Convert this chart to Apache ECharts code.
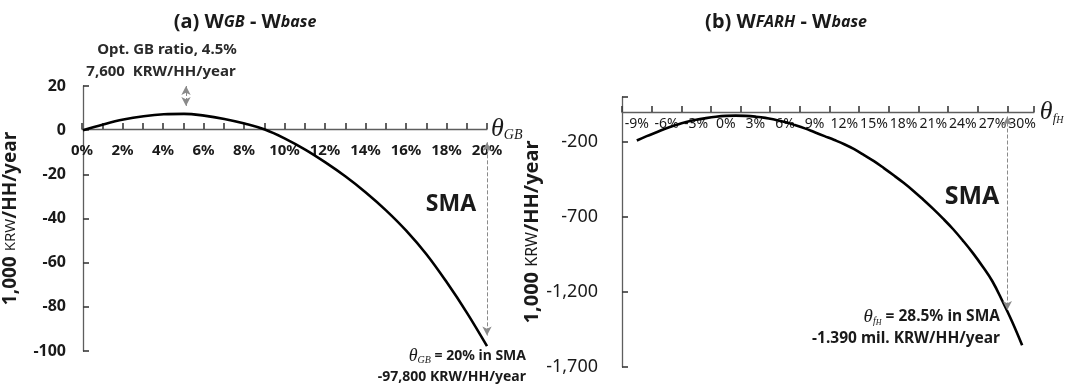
<!DOCTYPE html>
<html>
<head>
<meta charset="utf-8">
<script src="https://cdn.jsdelivr.net/npm/echarts@6/dist/echarts.min.js"></script>
<style>html,body{margin:0;padding:0;background:#fff}#c{width:1081px;height:385px}</style>
</head>
<body>
<div id="c"></div>
<script>
// ---- data ----
const gbRatio = [0,1,2,3,4,5,6,7,8,9,10,11,12,13,14,15,16,17,18,19,20];
const gbWelfare = [0,2.6,4.8,6.3,7.2,7.4,6.6,5.1,3.0,0.3,-3.8,-8.8,-14.6,-21.0,-28.2,-36.3,-45.5,-56.2,-68.8,-82.6,-97.8];
const fhRatio = [-9,-8,-7,-6,-5,-4,-3,-2,-1,0,1,2,3,4,5,6,7,8,9,10,11,12,13,14,15,16,17,18,19,20,21,22,23,24,25,26,27,28,29,30];
const fhWelfare = [-190,-161,-135,-108,-86,-67,-52,-41,-32,-26,-24,-26,-31,-39,-52,-67,-87,-109,-135,-161,-187,-215,-248,-287,-328,-374,-422,-472,-526,-585,-646,-711,-780,-857,-939,-1030,-1130,-1260,-1400,-1555];
const fhLabelTicks = [-9,-6,-3,0,3,6,9,12,15,18,21,24,27,30];
const fhYTicks = [-1700,-1200,-700,-200];
// tick-mark spacing (axis units)
const gbTickStep = 1, fhTickStep = 3, fhYStep = 500;

const SANS = "'Noto Sans', 'Open Sans', sans-serif";
const SERIF = "'Liberation Serif', 'DejaVu Serif', serif";
const AXIS = '#5e5e5e';
const TXT = '#1a1a1a';

function comma(v){ const s = Math.abs(v).toString().replace(/\B(?=(\d{3})+(?!\d))/g, ','); return (v<0?'-':'') + s; }

const chart = echarts.init(document.getElementById('c'));
const arrowLine = { type:'dashed', color:'#8a8a8a', width:1 };
const hidden = {show:false};
const tickStyle = {color:'#3a3a3a', width:1.6};

const fhMin = -10.5, fhMax = 31.2;

chart.setOption({
  animation:false,
  backgroundColor:'#fff',
  grid:[
    {left:82, top:86, width:405, height:265},   // 0: left plot
    {left:622, top:97, width:412, height:270},  // 1: right plot
    {left:82, top:86, width:405, height:43},    // 2: left x-axis host (bottom edge = zero line)
    {left:622, top:97, width:412, height:15}    // 3: right x-axis host
  ],
  xAxis:[
    {type:'value', gridIndex:0, min:0, max:20, show:false},
    {type:'value', gridIndex:1, min:fhMin, max:fhMax, show:false},
    {type:'value', gridIndex:2, min:0, max:20, interval:gbTickStep, position:'bottom',
     axisLine:{show:true, onZero:false, lineStyle:{color:AXIS, width:1.3}},
     axisTick:{show:true, inside:true, length:6, lineStyle:tickStyle},
     axisLabel:{show:true, formatter:v=>(v%2===0? v+'%' : ''), margin:14, fontFamily:SANS, fontWeight:'bold', fontSize:15, color:TXT},
     splitLine:hidden,
     name:'{t|θ}{s|GB}', nameLocation:'end', nameGap:4,
     nameTextStyle:{rich:{t:{fontFamily:SERIF, fontStyle:'italic', fontSize:26, color:TXT}, s:{fontFamily:SERIF, fontStyle:'italic', fontSize:14, color:TXT, verticalAlign:'bottom', padding:[12,0,0,0]}}}
    },
    {type:'value', gridIndex:3, min:fhMin, max:fhMax, position:'bottom',
     axisLine:{show:true, onZero:false, lineStyle:{color:AXIS, width:1.3}},
     axisTick:{show:false},
     axisLabel:{show:true, customValues:fhLabelTicks, formatter:v=>v+'%', margin:5, fontFamily:SANS, fontSize:14, color:TXT},
     splitLine:hidden,
     name:'{t|θ}{s|f}{u|H}', nameLocation:'end', nameGap:4,
     nameTextStyle:{rich:{t:{fontFamily:SERIF, fontStyle:'italic', fontSize:26, color:TXT}, s:{fontFamily:SERIF, fontStyle:'italic', fontSize:13, color:TXT, verticalAlign:'bottom', padding:[14,0,0,0]}, u:{fontFamily:SERIF, fontStyle:'italic', fontSize:10, color:TXT, verticalAlign:'bottom', padding:[4,0,0,0]}}}
    },
    // tick-mark axis for right panel (offset scale starting at the axis origin)
    {type:'value', gridIndex:3, min:0, max:fhMax-fhMin, interval:fhTickStep, position:'bottom',
     axisLine:{show:false, onZero:false}, axisLabel:{show:false}, splitLine:hidden,
     axisTick:{show:true, inside:true, length:6, lineStyle:tickStyle}}
  ],
  yAxis:[
    {type:'value', gridIndex:0, min:-100, max:20, interval:20,
     axisLine:{show:true, onZero:false, lineStyle:{color:AXIS, width:1.3}},
     axisTick:{show:true, inside:true, length:6, lineStyle:tickStyle},
     axisLabel:{show:true, margin:17, fontFamily:SANS, fontWeight:'bold', fontSize:16, color:TXT},
     splitLine:hidden,
     name:'{a|1,000 }{b|KRW}{a|/HH/year}', nameLocation:'middle', nameGap:63,
     nameTextStyle:{rich:{a:{fontFamily:SANS, fontWeight:'bold', fontSize:19, color:TXT}, b:{fontFamily:SANS, fontSize:15, color:TXT}}}
    },
    {type:'value', gridIndex:1, min:-1700, max:100,
     axisLine:{show:true, onZero:false, lineStyle:{color:AXIS, width:1.3}},
     axisTick:{show:false},
     axisLabel:{show:true, customValues:fhYTicks, formatter:comma, margin:24, fontFamily:SANS, fontSize:18, color:TXT},
     splitLine:hidden,
     name:'{a|1,000 }{b|KRW}{a|/HH/year}', nameLocation:'middle', nameGap:69,
     nameTextStyle:{rich:{a:{fontFamily:SANS, fontWeight:'bold', fontSize:20, color:TXT}, b:{fontFamily:SANS, fontSize:16, color:TXT}}}
    },
    {type:'value', gridIndex:2, min:0, max:1, show:false},
    {type:'value', gridIndex:3, min:0, max:1, show:false},
    // tick-mark axis for right panel y (offset scale starting at -1,700)
    {type:'value', gridIndex:1, min:0, max:1800, interval:fhYStep, position:'left',
     axisLine:{show:false, onZero:false}, axisLabel:{show:false}, splitLine:hidden,
     axisTick:{show:true, inside:true, length:6, lineStyle:tickStyle}}
  ],
  series:[
    {type:'line', xAxisIndex:0, yAxisIndex:0, data:gbRatio.map((x,i)=>[x,gbWelfare[i]]),
     smooth:0.4, showSymbol:false, symbol:'none', clip:false,
     lineStyle:{color:'#000', width:2.6},
     markLine:{silent:true, symbol:['arrow','arrow'], symbolSize:[7,9], label:{show:false}, lineStyle:arrowLine,
       data:[
         [{coord:[20,-5.5]},{coord:[20,-93]}],
         [{coord:[5.1,20]},{coord:[5.1,11]}]
       ]}
    },
    {type:'line', xAxisIndex:1, yAxisIndex:1, data:fhRatio.map((x,i)=>[x,fhWelfare[i]]),
     smooth:0.4, showSymbol:false, symbol:'none', clip:false,
     lineStyle:{color:'#000', width:2.6},
     markLine:{silent:true, symbol:['arrow','arrow'], symbolSize:[7,9], label:{show:false}, lineStyle:arrowLine,
       data:[[{coord:[28.5,-30]},{coord:[28.5,-1320]}]]}
    }
  ],
  graphic:[
    {type:'text', style:{x:245, y:22, align:'center', verticalAlign:'middle', fill:TXT,
      text:'{a|(a) W}{b|GB}{a| - W}{b|base}',
      rich:{a:{fontFamily:SANS, fontWeight:'bold', fontSize:20, fill:TXT}, b:{fontFamily:SANS, fontWeight:'bold', fontStyle:'italic', fontSize:16, fill:TXT}}}},
    {type:'text', style:{x:786, y:22, align:'center', verticalAlign:'middle', fill:TXT,
      text:'{a|(b) W}{b|FARH}{a| - W}{b|base}',
      rich:{a:{fontFamily:SANS, fontWeight:'bold', fontSize:20, fill:TXT}, b:{fontFamily:SANS, fontWeight:'bold', fontStyle:'italic', fontSize:16, fill:TXT}}}},
    {type:'text', style:{x:167, y:50, align:'center', verticalAlign:'middle', text:'Opt. GB ratio, 4.5%', fontFamily:SANS, fontWeight:'bold', fontSize:15, fill:'#2a2a2a'}},
    {type:'text', style:{x:161, y:72, align:'center', verticalAlign:'middle', text:'7,600  KRW/HH/year', fontFamily:SANS, fontWeight:'bold', fontSize:15, fill:'#2a2a2a'}},
    {type:'text', style:{x:451, y:204, align:'center', verticalAlign:'middle', text:'SMA', fontFamily:SANS, fontWeight:'bold', fontSize:23, fill:TXT}},
    {type:'text', style:{x:526, y:356, align:'right', verticalAlign:'middle', fill:TXT,
      text:'{t|θ}{s|GB}{a| = 20% in SMA}',
      rich:{t:{fontFamily:SERIF, fontStyle:'italic', fontSize:18, fill:TXT}, s:{fontFamily:SERIF, fontStyle:'italic', fontSize:10, fill:TXT, verticalAlign:'bottom', padding:[6,0,0,0]}, a:{fontFamily:SANS, fontWeight:'bold', fontSize:14, fill:TXT}}}},
    {type:'text', style:{x:526, y:377, align:'right', verticalAlign:'middle', text:'-97,800 KRW/HH/year', fontFamily:SANS, fontWeight:'bold', fontSize:14, fill:TXT}},
    {type:'text', style:{x:972, y:197, align:'center', verticalAlign:'middle', text:'SMA', fontFamily:SANS, fontWeight:'bold', fontSize:25, fill:TXT}},
    {type:'text', style:{x:1000, y:317, align:'right', verticalAlign:'middle', fill:TXT,
      text:'{t|θ}{s|f}{u|H}{a| = 28.5% in SMA}',
      rich:{t:{fontFamily:SERIF, fontStyle:'italic', fontSize:19, fill:TXT}, s:{fontFamily:SERIF, fontStyle:'italic', fontSize:10, fill:TXT, verticalAlign:'bottom', padding:[9,0,0,0]}, u:{fontFamily:SERIF, fontStyle:'italic', fontSize:8, fill:TXT, verticalAlign:'bottom', padding:[3,0,0,0]}, a:{fontFamily:SANS, fontWeight:'bold', fontSize:15.5, fill:TXT}}}},
    {type:'text', style:{x:1000, y:339, align:'right', verticalAlign:'middle', text:'-1.390 mil. KRW/HH/year', fontFamily:SANS, fontWeight:'bold', fontSize:15.5, fill:TXT}}
  ]
});
</script>
</body>
</html>
